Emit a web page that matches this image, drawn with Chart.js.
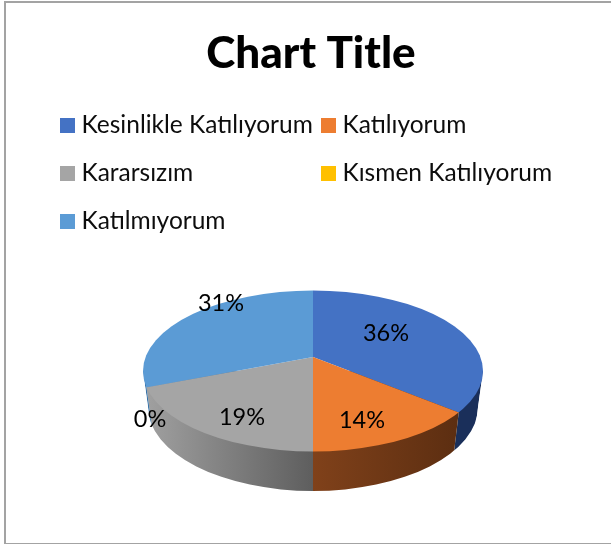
<!DOCTYPE html>
<html>
<head>
<meta charset="utf-8">
<title>Chart Title</title>
<script src="https://cdn.jsdelivr.net/npm/chart.js@4"></script>
<style>
  html, body { margin: 0; padding: 0; background: #fff; overflow: hidden; }
  #frame { position: absolute; left: 4px; top: 1px; width: 700px; height: 540px; border: 2px solid #a3a3a3; }
  #pie { position: absolute; left: 0; top: 0; }
</style>
</head>
<body>
<div id="frame"></div>
<canvas id="pie" width="611" height="544"></canvas>
<script>
const categories = ['Kesinlikle Katılıyorum', 'Katılıyorum', 'Kararsızım', 'Kısmen Katılıyorum', 'Katılmıyorum'];
const values = [36, 14, 19, 0, 31];

// the pie is drawn by chart.js, then squashed and clipped to the tilted disc
const tilt = {
  id: 'tilt',
  rimPoint(o, a) {
    const dx = Math.cos(a), dy = Math.sin(a) * o.squash;
    const ox = o.cx - o.rimX, oy = o.cy - o.rimY;
    const A = dx * dx / (o.rx * o.rx) + dy * dy / (o.ry * o.ry);
    const B = 2 * (ox * dx / (o.rx * o.rx) + oy * dy / (o.ry * o.ry));
    const C = ox * ox / (o.rx * o.rx) + oy * oy / (o.ry * o.ry) - 1;
    const t = (-B + Math.sqrt(B * B - 4 * A * C)) / (2 * A);
    return { x: o.cx + t * dx, y: o.cy + t * dy };
  },
  drawWalls(chart, o) {
    const ctx = chart.ctx;
    const shrink = (o.baseRx / o.rx - 1) / (o.baseY - o.rimY); // seams lean inwards going down
    const seamX = (p, y) => p.x + (p.x - o.rimX) * shrink * (y - p.y);
    chart.getDatasetMeta(0).data.forEach((arc, i) => {
      if (arc.endAngle - arc.startAngle <= 0) return;
      let lo = null, hi = null;
      for (let k = 0; k <= 90; k++) {
        const p = this.rimPoint(o, arc.startAngle + (arc.endAngle - arc.startAngle) * k / 90);
        if (p.y >= o.rimY) {
          if (!lo || p.x < lo.x) lo = p;
          if (!hi || p.x > hi.x) hi = p;
        }
      }
      if (!lo) return;
      const g = ctx.createLinearGradient(lo.x, 0, hi.x, 0);
      g.addColorStop(0, o.walls[i][0]);
      g.addColorStop(1, o.walls[i][1]);
      ctx.save();
      ctx.beginPath();
      ctx.moveTo(seamX(lo, o.rimY), o.rimY);
      ctx.lineTo(seamX(hi, o.rimY), o.rimY);
      ctx.lineTo(seamX(hi, chart.height), chart.height);
      ctx.lineTo(seamX(lo, chart.height), chart.height);
      ctx.closePath();
      ctx.clip();
      ctx.beginPath();
      ctx.moveTo(o.rimX - o.rx, o.rimY);
      ctx.lineTo(o.rimX - o.baseRx, o.baseY);
      ctx.ellipse(o.rimX, o.baseY, o.baseRx, o.baseRy, 0, Math.PI, 0, true);
      ctx.lineTo(o.rimX + o.rx, o.rimY);
      ctx.closePath();
      ctx.fillStyle = g;
      ctx.fill();
      ctx.restore();
    });
  },
  beforeDatasetsDraw(chart, args, o) {
    const ctx = chart.ctx;
    const arc = chart.getDatasetMeta(0).data[0];
    this.drawWalls(chart, o);
    ctx.save();
    ctx.beginPath();
    ctx.ellipse(o.rimX, o.rimY, o.rx, o.ry, 0, 0, Math.PI * 2);
    ctx.clip();
    ctx.translate(o.cx, o.cy);
    ctx.scale(1, o.squash);
    ctx.translate(-arc.x, -arc.y);
  },
  afterDatasetsDraw(chart, args, o) {
    const ctx = chart.ctx;
    ctx.restore();

    // percent labels
    const total = values.reduce((a, b) => a + b, 0);
    ctx.save();
    ctx.font = o.labelFont;
    ctx.fillStyle = '#000';
    ctx.textAlign = 'center';
    ctx.textBaseline = 'middle';
    values.forEach((v, i) => {
      const at = o.labelAt[i];
      ctx.fillText(Math.round(v / total * 100) + '%', at[0], at[1]);
    });
    ctx.restore();
  }
};

// excel style legend: two fixed columns, the built-in one only centres rows
const gridLegend = {
  id: 'gridLegend',
  afterDraw(chart, args, o) {
    const ctx = chart.ctx;
    const items = Chart.overrides.doughnut.plugins.legend.labels.generateLabels(chart);
    ctx.save();
    ctx.font = o.font;
    ctx.textBaseline = 'middle';
    items.forEach((item, i) => {
      const x = o.columns[i % 2], y = o.rows[Math.floor(i / 2)];
      ctx.fillStyle = item.fillStyle;
      ctx.fillRect(x, y - o.box / 2, o.box, o.box);
      ctx.fillStyle = '#0d0d0d';
      ctx.fillText(item.text, x + o.box + o.gap, y);
    });
    ctx.restore();
  }
};

new Chart(document.getElementById('pie'), {
  type: 'pie',
  data: {
    labels: categories,
    datasets: [{
      data: values,
      borderWidth: 0,
      backgroundColor: ['#4472C4', '#ED7D31', '#A5A5A5', '#FFC000', '#5B9BD5']
    }]
  },
  options: {
    responsive: false,
    animation: false,
    radius: 225,
    layout: { padding: { left: 11, top: 17 } },
    plugins: {
      title: {
        display: true,
        text: 'Chart Title',
        color: '#000',
        font: { family: 'Lato', size: 44, weight: '900' }
      },
      legend: { display: false },
      tooltip: { enabled: false },
      tilt: {
        cx: 313, cy: 357, squash: 0.46,
        rimX: 313, rimY: 371, rx: 170, ry: 80.5,
        baseY: 407, baseRx: 165, baseRy: 84,
        walls: [
          ['#1a2f5a', '#1a2f5a'],
          ['#80411a', '#5c2e11'],
          ['#a0a0a0', '#5e5e5e'],
          ['#000', '#000'],
          ['#3a74a8', '#3a74a8']
        ],
        labelFont: '23.5px Lato',
        labelAt: [[386, 333], [362, 420], [242, 417], [150, 419], [221, 303]]
      },
      gridLegend: {
        font: '24.5px Lato',
        columns: [60, 321], rows: [125.5, 173.5, 221.5],
        box: 15, gap: 6.5
      }
    }
  },
  plugins: [tilt, gridLegend]
});
</script>
</body>
</html>
